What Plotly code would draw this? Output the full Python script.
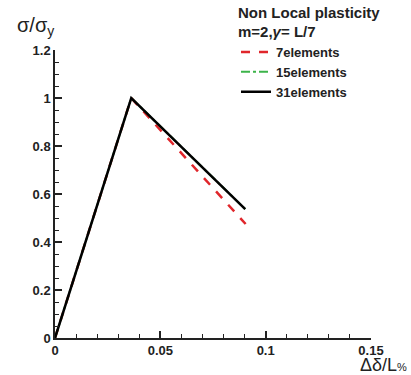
import plotly.graph_objects as go

# Data
x_7 = [0.0, 0.0362, 0.0905]
y_7 = [0.0, 1.0, 0.475]
x_15 = [0.0, 0.0362, 0.0903]
y_15 = [0.0, 1.0, 0.537]
x_31 = [0.0, 0.0362, 0.0903]
y_31 = [0.0, 1.0, 0.537]
names = ["7elements", "15elements", "31elements"]

fig = go.Figure()
fig.add_trace(go.Scatter(x=x_7, y=y_7, mode="lines", name=names[0],
                         line=dict(color="#e0262b", width=2.5, dash="dash")))
fig.add_trace(go.Scatter(x=x_15, y=y_15, mode="lines", name=names[1],
                         line=dict(color="#3cb44a", width=2, dash="dashdot")))
fig.add_trace(go.Scatter(x=x_31, y=y_31, mode="lines", name=names[2],
                         line=dict(color="black", width=2.5)))

tickfont = dict(family="Liberation Sans", size=13, color="#222", weight="bold")
fig.update_layout(
    width=411, height=375,
    margin=dict(l=55, r=40, t=50, b=37, autoexpand=False),
    plot_bgcolor="white", paper_bgcolor="white",
    font=dict(family="Liberation Sans", color="#222"),
    showlegend=True,
    legend=dict(
        x=(236 - 55) / 316, y=(338 + 2) / 288, xref="paper", yref="paper",
        xanchor="left", yanchor="top",
        bgcolor="rgba(0,0,0,0)",
        title=dict(text="Non Local plasticity<br>m=2,<i>γ</i>= L/7",
                   font=dict(size=15, color="#222", weight="bold")),
        font=dict(size=13, color="#222", weight="bold"),
        tracegroupgap=0,
    ),
    xaxis=dict(range=[0, 0.15], showgrid=False, zeroline=False,
               showline=True, linecolor="#222", linewidth=1.5,
               ticks="inside", tickwidth=1.5, ticklen=7, tickcolor="#222",
               tickvals=[0, 0.05, 0.1, 0.15], ticktext=["0", "0.05", "0.1", "0.15"],
               tickfont=tickfont,
               minor=dict(dtick=0.01, ticks="inside", ticklen=4, tickcolor="#222", tickwidth=1)),
    yaxis=dict(range=[0, 1.2], showgrid=False, zeroline=False,
               showline=True, linecolor="#222", linewidth=1.5,
               ticks="inside", tickwidth=1.5, ticklen=7, tickcolor="#222",
               tickvals=[0, 0.2, 0.4, 0.6, 0.8, 1.0, 1.2],
               ticktext=["0", "0.2", "0.4", "0.6", "0.8", "1", "1.2"],
               tickfont=tickfont,
               minor=dict(dtick=0.05, ticks="inside", ticklen=4, tickcolor="#222", tickwidth=1)),
)

fig.add_annotation(text="σ/σ<sub>y</sub>", xref="paper", yref="paper",
                   x=(15 - 55) / 316, y=(338 - 12) / 288, xanchor="left", yanchor="top",
                   showarrow=False, font=dict(size=20, color="#222"))
fig.add_annotation(text="Δδ/L<span style='font-size:11px'>%</span>", xref="paper", yref="paper",
                   x=(409 - 55) / 316, y=0, yshift=-15, xanchor="right", yanchor="top",
                   showarrow=False, font=dict(size=18, color="#222"))

fig.write_html("out.html")
